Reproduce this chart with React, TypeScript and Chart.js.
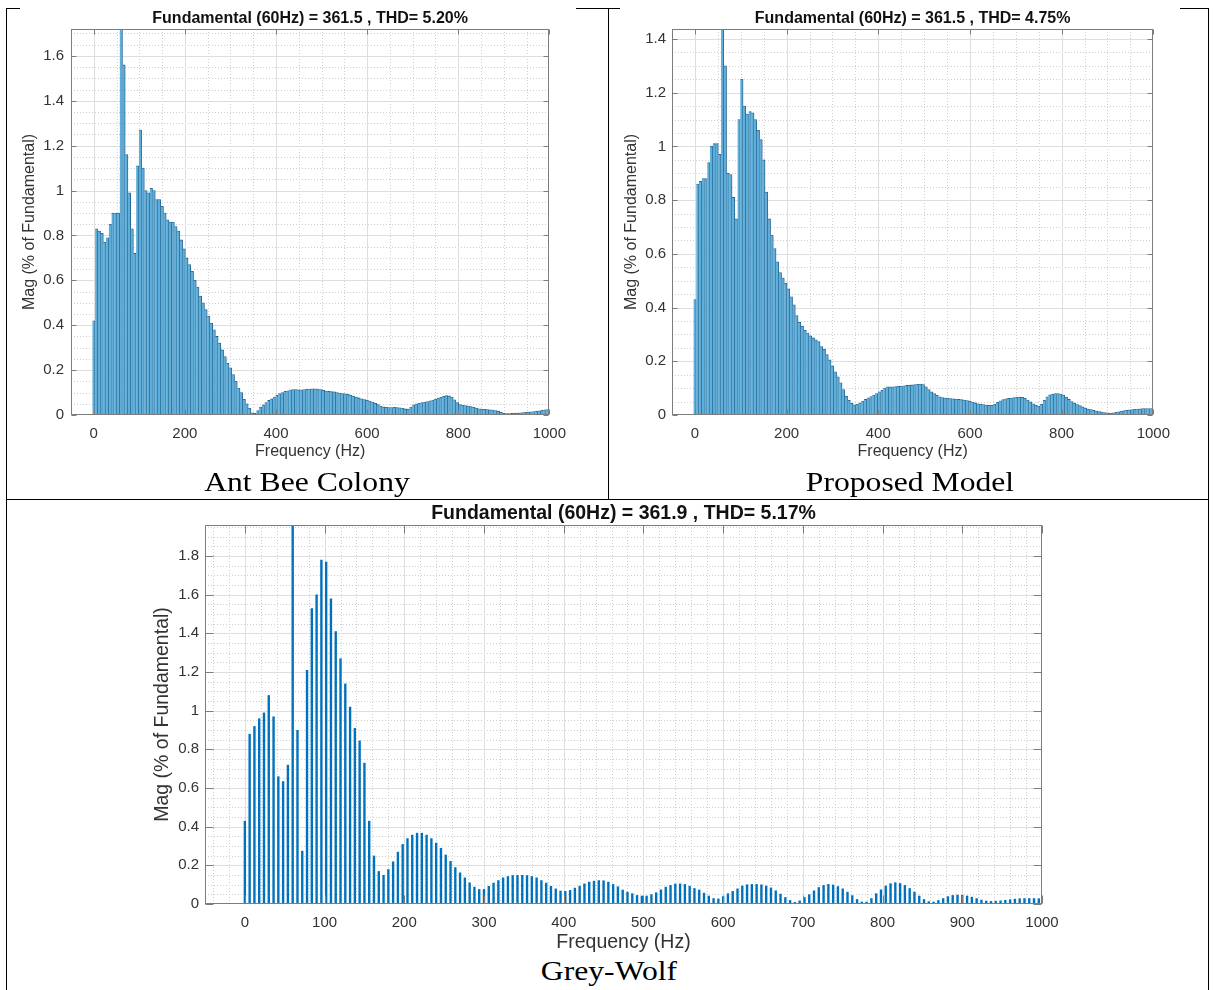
import React, { useEffect, useRef } from 'react';
import { Chart, registerables } from 'chart.js';

Chart.register(...registerables);

const SANS = '"Liberation Sans", Arial, Helvetica, sans-serif';
const SERIF = '"Liberation Serif", "Times New Roman", Times, serif';
Chart.defaults.font.family = SANS;

// ---------------- data ----------------
const FREQ_HZ = [
  0, 6, 12, 18, 24, 30, 36, 42, 48, 54,
  60, 66, 72, 78, 84, 90, 96, 102, 108, 114,
  120, 126, 132, 138, 144, 150, 156, 162, 168, 174,
  180, 186, 192, 198, 204, 210, 216, 222, 228, 234,
  240, 246, 252, 258, 264, 270, 276, 282, 288, 294,
  300, 306, 312, 318, 324, 330, 336, 342, 348, 354,
  360, 366, 372, 378, 384, 390, 396, 402, 408, 414,
  420, 426, 432, 438, 444, 450, 456, 462, 468, 474,
  480, 486, 492, 498, 504, 510, 516, 522, 528, 534,
  540, 546, 552, 558, 564, 570, 576, 582, 588, 594,
  600, 606, 612, 618, 624, 630, 636, 642, 648, 654,
  660, 666, 672, 678, 684, 690, 696, 702, 708, 714,
  720, 726, 732, 738, 744, 750, 756, 762, 768, 774,
  780, 786, 792, 798, 804, 810, 816, 822, 828, 834,
  840, 846, 852, 858, 864, 870, 876, 882, 888, 894,
  900, 906, 912, 918, 924, 930, 936, 942, 948, 954,
  960, 966, 972, 978, 984, 990, 996,
];

// Ant Bee Colony (% of fundamental); the 60 Hz bin is the fundamental itself (100 %)
const ABC_MAG = [
  0.42, 0.83, 0.82, 0.81, 0.77, 0.79, 0.85, 0.90, 0.90, 0.90,
  100, 1.56, 1.16, 0.99, 0.83, 0.72, 1.11, 1.27, 1.10, 1.00,
  0.99, 1.01, 1.00, 0.96, 0.96, 0.93, 0.90, 0.87, 0.86, 0.86,
  0.84, 0.82, 0.78, 0.74, 0.70, 0.67, 0.64, 0.60, 0.57, 0.53,
  0.50, 0.47, 0.44, 0.41, 0.38, 0.35, 0.32, 0.29, 0.26, 0.23,
  0.21, 0.18, 0.15, 0.12, 0.10, 0.07, 0.05, 0.03, 0.01, 0.008,
  0.02, 0.035, 0.045, 0.055, 0.065, 0.072, 0.08, 0.088, 0.095, 0.10,
  0.105, 0.108, 0.112, 0.113, 0.113, 0.112, 0.112, 0.113, 0.115, 0.116,
  0.117, 0.117, 0.116, 0.113, 0.11, 0.107, 0.105, 0.104, 0.103, 0.10,
  0.098, 0.096, 0.094, 0.092, 0.088, 0.084, 0.08, 0.076, 0.072, 0.069,
  0.066, 0.062, 0.058, 0.052, 0.046, 0.04, 0.036, 0.034, 0.033, 0.033,
  0.034, 0.033, 0.032, 0.03, 0.027, 0.026, 0.035, 0.045, 0.05, 0.052,
  0.055, 0.058, 0.06, 0.063, 0.067, 0.071, 0.075, 0.079, 0.083, 0.086,
  0.085, 0.08, 0.068, 0.055, 0.046, 0.043, 0.042, 0.04, 0.037, 0.034,
  0.031, 0.028, 0.026, 0.025, 0.024, 0.023, 0.022, 0.02, 0.017, 0.012,
  0.008, 0.006, 0.006, 0.007, 0.008, 0.009, 0.01, 0.011, 0.012, 0.013,
  0.014, 0.015, 0.017, 0.019, 0.021, 0.023, 0.024,
];

// Proposed Model
const PROPOSED_MAG = [
  0.43, 0.86, 0.87, 0.88, 0.88, 0.94, 1.00, 1.01, 1.01, 0.97,
  100, 1.30, 0.90, 0.895, 0.81, 0.73, 1.10, 1.25, 1.15, 1.12,
  1.13, 1.125, 1.10, 1.06, 1.025, 0.95, 0.83, 0.73, 0.67, 0.62,
  0.57, 0.53, 0.51, 0.49, 0.47, 0.44, 0.41, 0.37, 0.345, 0.33,
  0.315, 0.305, 0.295, 0.287, 0.28, 0.273, 0.255, 0.245, 0.225, 0.205,
  0.183, 0.161, 0.142, 0.12, 0.095, 0.07, 0.055, 0.043, 0.038, 0.04,
  0.045, 0.052, 0.058, 0.064, 0.069, 0.074, 0.08, 0.086, 0.092, 0.10,
  0.105, 0.105, 0.105, 0.106, 0.107, 0.108, 0.109, 0.11, 0.111, 0.112,
  0.113, 0.114, 0.115, 0.113, 0.105, 0.095, 0.086, 0.08, 0.073, 0.068,
  0.065, 0.063, 0.062, 0.061, 0.06, 0.059, 0.058, 0.057, 0.056, 0.054,
  0.051, 0.048, 0.045, 0.042, 0.04, 0.039, 0.037, 0.036, 0.036, 0.04,
  0.047, 0.053, 0.057, 0.06, 0.062, 0.063, 0.065, 0.066, 0.067, 0.066,
  0.062, 0.056, 0.049, 0.042, 0.036, 0.032, 0.04, 0.055, 0.068, 0.075,
  0.078, 0.08, 0.08, 0.078, 0.074, 0.067, 0.058, 0.05, 0.044, 0.039,
  0.035, 0.03, 0.026, 0.022, 0.02, 0.017, 0.015, 0.013, 0.011, 0.009,
  0.008, 0.007, 0.008, 0.01, 0.012, 0.014, 0.016, 0.018, 0.019, 0.02,
  0.021, 0.022, 0.023, 0.024, 0.024, 0.024, 0.024,
];

// Grey-Wolf
const GWO_MAG = [
  0.43, 0.88, 0.92, 0.96, 0.99, 1.08, 0.97, 0.66, 0.635, 0.72,
  100, 0.90, 0.275, 1.21, 1.53, 1.60, 1.78, 1.77, 1.58, 1.41,
  1.27, 1.14, 1.02, 0.91, 0.845, 0.73, 0.43, 0.25, 0.17, 0.15,
  0.18, 0.22, 0.27, 0.31, 0.34, 0.358, 0.368, 0.368, 0.358, 0.34,
  0.317, 0.29, 0.255, 0.222, 0.19, 0.163, 0.137, 0.111, 0.089, 0.077,
  0.077, 0.093, 0.11, 0.123, 0.137, 0.144, 0.149, 0.15, 0.15, 0.149,
  0.144, 0.137, 0.123, 0.11, 0.093, 0.08, 0.069, 0.067, 0.072, 0.084,
  0.094, 0.106, 0.115, 0.12, 0.123, 0.122, 0.115, 0.103, 0.091, 0.074,
  0.063, 0.055, 0.046, 0.043, 0.043, 0.05, 0.06, 0.075, 0.089, 0.098,
  0.105, 0.106, 0.103, 0.094, 0.082, 0.074, 0.058, 0.043, 0.03, 0.028,
  0.04, 0.055, 0.067, 0.08, 0.095, 0.101, 0.103, 0.103, 0.101, 0.095,
  0.085, 0.07, 0.053, 0.035, 0.02, 0.01, 0.018, 0.035, 0.05, 0.07,
  0.087, 0.098, 0.103, 0.10, 0.092, 0.08, 0.063, 0.045, 0.025, 0.012,
  0.012, 0.03, 0.055, 0.075, 0.095, 0.107, 0.112, 0.108, 0.098, 0.082,
  0.063, 0.043, 0.025, 0.014, 0.012, 0.02, 0.03, 0.04, 0.046, 0.048,
  0.047, 0.043, 0.037, 0.03, 0.022, 0.017, 0.015, 0.016, 0.018, 0.021,
  0.024, 0.027, 0.029, 0.03, 0.03, 0.03, 0.029,
];

const TOP_X_TICKS = [0, 200, 400, 600, 800, 1000];
const BOTTOM_X_TICKS = [0, 100, 200, 300, 400, 500, 600, 700, 800, 900, 1000];
const ABC_Y_TICKS = [0, 0.2, 0.4, 0.6, 0.8, 1, 1.2, 1.4, 1.6];
const PROPOSED_Y_TICKS = [0, 0.2, 0.4, 0.6, 0.8, 1, 1.2, 1.4];
const GWO_Y_TICKS = [0, 0.2, 0.4, 0.6, 0.8, 1, 1.2, 1.4, 1.6, 1.8];

const ABC_TITLE = 'Fundamental (60Hz) = 361.5 , THD= 5.20%';
const PROPOSED_TITLE = 'Fundamental (60Hz) = 361.5 , THD= 4.75%';
const GWO_TITLE = 'Fundamental (60Hz) = 361.9 , THD= 5.17%';
const X_LABEL = 'Frequency (Hz)';
const Y_LABEL = 'Mag (% of Fundamental)';

// ---------------- plugins ----------------
const matlabAxesPlugin = {
  id: 'matlabAxes',
  beforeDatasetsDraw(chart: any, _args: any, o: any) {
    const { ctx, chartArea: a } = chart;
    const xs = chart.scales.x;
    const ys = chart.scales.y;
    ctx.save();
    ctx.lineWidth = 1;
    ctx.strokeStyle = o.minorColor;
    ctx.setLineDash([1, 2]);
    for (let i = Math.ceil(xs.min / o.xMinor); i * o.xMinor <= xs.max; i++) {
      const v = i * o.xMinor;
      if (Math.abs(v / o.xMajor - Math.round(v / o.xMajor)) < 1e-6) continue;
      const px = Math.round(xs.getPixelForValue(v)) + 0.5;
      if (px <= a.left + 1 || px >= a.right - 1) continue;
      ctx.beginPath(); ctx.moveTo(px, a.top); ctx.lineTo(px, a.bottom); ctx.stroke();
    }
    for (let i = Math.ceil(ys.min / o.yMinor); i * o.yMinor <= ys.max + 1e-9; i++) {
      const v = i * o.yMinor;
      if (Math.abs(v / o.yMajor - Math.round(v / o.yMajor)) < 1e-6) continue;
      const py = Math.round(ys.getPixelForValue(v)) + 0.5;
      if (py <= a.top + 1 || py >= a.bottom - 1) continue;
      ctx.beginPath(); ctx.moveTo(a.left, py); ctx.lineTo(a.right, py); ctx.stroke();
    }
    ctx.setLineDash([]);
    ctx.strokeStyle = o.majorColor;
    for (const v of o.xTicks) {
      const px = Math.round(xs.getPixelForValue(v)) + 0.5;
      if (px <= a.left + 1 || px >= a.right - 1) continue;
      ctx.beginPath(); ctx.moveTo(px, a.top); ctx.lineTo(px, a.bottom); ctx.stroke();
    }
    for (const v of o.yTicks) {
      const py = Math.round(ys.getPixelForValue(v)) + 0.5;
      if (py <= a.top + 1 || py >= a.bottom - 1) continue;
      ctx.beginPath(); ctx.moveTo(a.left, py); ctx.lineTo(a.right, py); ctx.stroke();
    }
    ctx.restore();
  },
  afterDatasetsDraw(chart: any, _args: any, o: any) {
    const { ctx, chartArea: a } = chart;
    const xs = chart.scales.x;
    const ys = chart.scales.y;
    ctx.save();
    ctx.strokeStyle = o.boxColor;
    ctx.lineWidth = 1;
    const L = Math.round(a.left) + 0.5;
    const R = Math.round(a.right) - 0.5;
    const T = Math.round(a.top) + 0.5;
    const B = Math.round(a.bottom) - 0.5;
    ctx.strokeRect(L, T, R - L, B - T);
    const t = o.tickLen;
    ctx.beginPath();
    for (const v of o.xTicks) {
      const px = Math.round(xs.getPixelForValue(v)) + 0.5;
      ctx.moveTo(px, B); ctx.lineTo(px, B - t);
      ctx.moveTo(px, T); ctx.lineTo(px, T + t);
    }
    for (const v of o.yTicks) {
      const py = Math.round(ys.getPixelForValue(v)) + 0.5;
      ctx.moveTo(L, py); ctx.lineTo(L + t, py);
      ctx.moveTo(R, py); ctx.lineTo(R - t, py);
    }
    ctx.stroke();
    ctx.restore();
  },
  afterDraw(chart: any, _args: any, o: any) {
    const { ctx, chartArea: a } = chart;
    ctx.save();
    ctx.font = `bold ${o.titleSize}px ${SANS}`;
    ctx.fillStyle = o.titleColor;
    ctx.textAlign = 'center';
    ctx.textBaseline = 'alphabetic';
    ctx.fillText(o.title, (a.left + a.right) / 2, o.titleBaseline);
    ctx.restore();
  },
};

// ---------------- panel ----------------
type PanelProps = {
  title: string;
  values: number[];
  xTicks: number[];
  yTicks: number[];
  yMax: number;
  xMinor: number;
  xMajor: number;
  left: number; top: number; width: number; height: number;
  area: { left: number; right: number; top: number; bottom: number };
  titleSize: number; titleBaseline: number;
  tickSize: number; labelSize: number;
  yTickPad: number; xTickPad: number;
  yTitlePad: number; xTitlePad: number;
  barColor: string; barEdge: string | null; barPct: number;
  tickLen: number;
};

function fmtY(v: number): string {
  const r = Math.round(v * 10) / 10;
  return String(r);
}

function Panel(p: PanelProps) {
  const ref = useRef<HTMLCanvasElement | null>(null);
  useEffect(() => {
    if (!ref.current) return;
    const points = FREQ_HZ.map((f, i) => ({ x: f, y: p.values[i] }));
    const textColor = '#333333';
    const chart = new Chart(ref.current, {
      type: 'bar',
      data: {
        datasets: [
          {
            data: points as any,
            backgroundColor: p.barColor,
            borderColor: p.barEdge || p.barColor,
            borderWidth: p.barEdge ? { top: 0.8, right: 0.9, bottom: 0, left: 0 } : 0,
            borderSkipped: 'start',
            barPercentage: p.barPct,
            categoryPercentage: 1,
            clip: 0,
          } as any,
        ],
      },
      options: {
        animation: false,
        responsive: false,
        devicePixelRatio: 1,
        events: [],
        layout: {
          padding: { left: 0, top: p.area.top, right: p.width - p.area.right, bottom: 0 },
        },
        scales: {
          x: {
            type: 'linear',
            min: -50,
            max: 1000,
            offset: false,
            grid: { display: false, drawTicks: false },
            border: { display: false },
            afterBuildTicks: (s: any) => { s.ticks = p.xTicks.map((v) => ({ value: v })); },
            afterFit: (s: any) => { s.height = p.height - p.area.bottom; },
            ticks: {
              padding: p.xTickPad,
              color: textColor,
              font: { size: p.tickSize },
              maxRotation: 0,
              autoSkip: false,
              callback: (v: any) => String(v),
            },
            title: {
              display: true,
              text: X_LABEL,
              color: textColor,
              font: { size: p.labelSize, lineHeight: 1.2 },
              padding: { top: 0, bottom: p.xTitlePad },
            },
          },
          y: {
            type: 'linear',
            min: 0,
            max: p.yMax,
            grid: { display: false, drawTicks: false },
            border: { display: false },
            afterBuildTicks: (s: any) => { s.ticks = p.yTicks.map((v) => ({ value: v })); },
            afterFit: (s: any) => { s.width = p.area.left; },
            ticks: {
              padding: p.yTickPad,
              color: textColor,
              font: { size: p.tickSize },
              autoSkip: false,
              callback: (v: any) => fmtY(Number(v)),
            },
            title: {
              display: true,
              text: Y_LABEL,
              color: textColor,
              font: { size: p.labelSize, lineHeight: 1.2 },
              padding: { top: p.yTitlePad, bottom: 0 },
            },
          },
        } as any,
        plugins: {
          legend: { display: false },
          tooltip: { enabled: false },
          title: { display: false },
          matlabAxes: {
            xTicks: p.xTicks,
            yTicks: p.yTicks,
            xMajor: p.xMajor,
            xMinor: p.xMinor,
            yMajor: 0.2,
            yMinor: 0.05,
            majorColor: '#dedede',
            minorColor: '#cfcfcf',
            boxColor: '#7d7d7d',
            tickLen: p.tickLen,
            title: p.title,
            titleSize: p.titleSize,
            titleBaseline: p.titleBaseline,
            titleColor: '#111111',
          },
        } as any,
      },
      plugins: [matlabAxesPlugin as any],
    });
    return () => chart.destroy();
  }, []);
  return (
    <canvas
      ref={ref}
      width={p.width}
      height={p.height}
      style={{
        position: 'absolute',
        left: p.left,
        top: p.top,
        width: p.width,
        height: p.height,
        background: '#ffffff',
        display: 'block',
      }}
    />
  );
}

function Line(props: { left: number; top: number; width: number; height: number }) {
  return (
    <div
      style={{
        position: 'absolute',
        left: props.left,
        top: props.top,
        width: props.width,
        height: props.height,
        background: '#000000',
      }}
    />
  );
}

function Caption(props: { text: string; center: number; top: number }) {
  return (
    <div
      style={{
        position: 'absolute',
        left: props.center - 200,
        top: props.top,
        width: 400,
        textAlign: 'center',
        fontFamily: SERIF,
        fontSize: 28,
        lineHeight: '28px',
        color: '#000000',
        whiteSpace: 'nowrap',
        transform: 'scaleX(1.13)',
        transformOrigin: 'center',
      }}
    >
      {props.text}
    </div>
  );
}

export default function App() {
  return (
    <div
      style={{
        position: 'absolute',
        left: 0,
        top: 0,
        width: 1213,
        height: 990,
        background: '#ffffff',
        overflow: 'hidden',
      }}
    >
      <Line left={6} top={8} width={1203} height={1} />
      <Line left={6} top={8} width={1} height={982} />
      <Line left={1208} top={8} width={1} height={982} />
      <Line left={6} top={499} width={1203} height={1} />
      <Line left={608} top={8} width={1} height={491} />

      <Panel
        title={ABC_TITLE}
        values={ABC_MAG}
        xTicks={TOP_X_TICKS}
        yTicks={ABC_Y_TICKS}
        yMax={1.72}
        xMajor={200}
        xMinor={50}
        left={20}
        top={8}
        width={556}
        height={460}
        area={{ left: 51, right: 539, top: 21, bottom: 407 }}
        titleSize={16}
        titleBaseline={14.7}
        tickSize={15}
        labelSize={16}
        yTickPad={7}
        xTickPad={10}
        yTitlePad={0.4}
        xTitlePad={6.4}
        barColor="#5eaed9"
        barEdge="#23628f"
        barPct={1}
        tickLen={5}
      />
      <Panel
        title={PROPOSED_TITLE}
        values={PROPOSED_MAG}
        xTicks={TOP_X_TICKS}
        yTicks={PROPOSED_Y_TICKS}
        yMax={1.437}
        xMajor={200}
        xMinor={50}
        left={620}
        top={8}
        width={560}
        height={460}
        area={{ left: 52, right: 542, top: 21, bottom: 407 }}
        titleSize={16}
        titleBaseline={14.7}
        tickSize={15}
        labelSize={16}
        yTickPad={6}
        xTickPad={10}
        yTitlePad={2.4}
        xTitlePad={6.4}
        barColor="#5eaed9"
        barEdge="#23628f"
        barPct={1}
        tickLen={5}
      />
      <Panel
        title={GWO_TITLE}
        values={GWO_MAG}
        xTicks={BOTTOM_X_TICKS}
        yTicks={GWO_Y_TICKS}
        yMax={1.96}
        xMajor={100}
        xMinor={20}
        left={140}
        top={500}
        width={930}
        height={455}
        area={{ left: 65, right: 902, top: 25, bottom: 404 }}
        titleSize={19.5}
        titleBaseline={19.3}
        tickSize={15}
        labelSize={19.5}
        yTickPad={6}
        xTickPad={10}
        yTitlePad={11.3}
        xTitlePad={0.3}
        barColor="#0072BD"
        barEdge={null}
        barPct={0.5}
        tickLen={8}
      />

      <Caption text="Ant Bee Colony" center={307} top={468} />
      <Caption text="Proposed Model" center={910} top={468} />
      <Caption text="Grey-Wolf" center={609} top={957} />
    </div>
  );
}
